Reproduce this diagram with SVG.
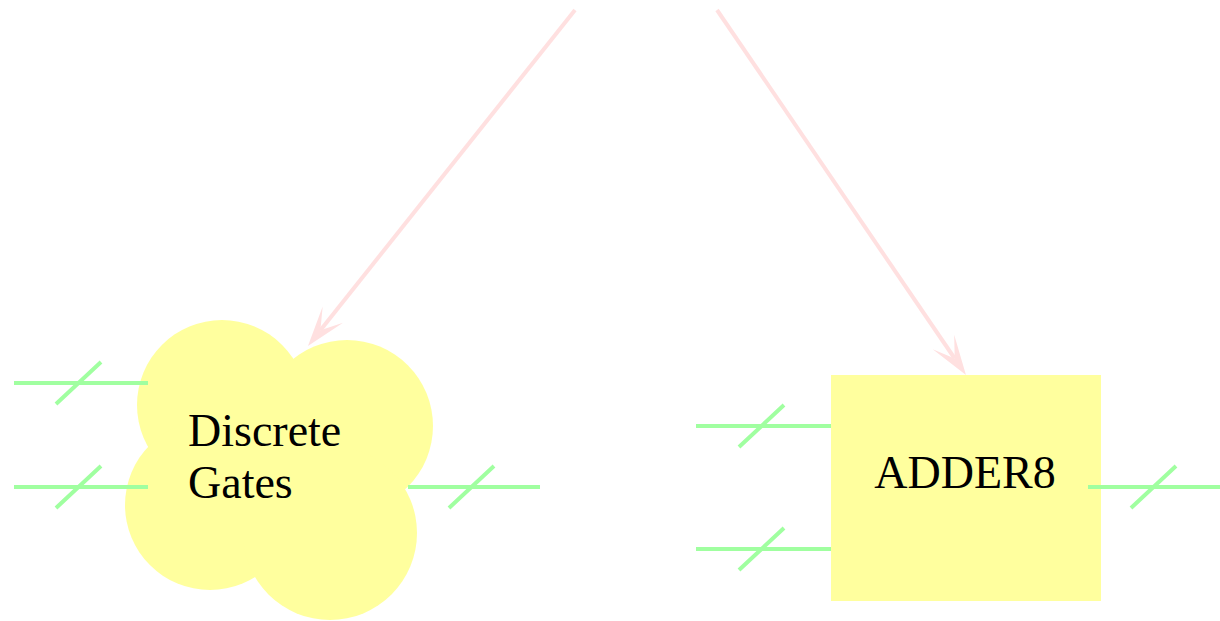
<svg xmlns="http://www.w3.org/2000/svg" width="1220" height="621" viewBox="0 0 1220 621">
<style>
.lbl{font-family:"Liberation Serif","Times New Roman",serif;font-size:46px;fill:#000}
.body{fill:#ffff9e;stroke:none}
.bus{stroke:#a0ffa0;stroke-width:4;fill:none}
.edge{stroke:#ffe0e0;stroke-width:4;fill:none}
</style>
<defs>
<marker id="vee" viewBox="0 -15 42 30" refX="20" refY="0" markerWidth="42" markerHeight="30" markerUnits="userSpaceOnUse" orient="auto">
<path d="M0,-13 L40,0 L0,13 L20,0 Z" fill="#ffe0e0"/>
</marker>
</defs>
<rect width="1220" height="621" fill="#ffffff"/>
<g id="connectors">
<path class="edge" d="M575,10 L320.4,330.3" marker-end="url(#vee)"/>
<path class="edge" d="M717,10 L954.7,358.5" marker-end="url(#vee)"/>
</g>
<g id="discrete-gates">
<g class="body">
<circle cx="222" cy="405" r="85"/>
<circle cx="347" cy="426" r="86"/>
<circle cx="210" cy="505" r="85"/>
<circle cx="330" cy="533" r="87"/>
<rect x="200" y="400" width="150" height="140"/>
</g>
<path class="bus" d="M14,383 H148 M56,404 L101,362 M14,487 H148 M56,508 L101,466 M408,487 H540 M449,508 L494,466"/>
<text class="lbl" x="188" y="446">Discrete</text>
<text class="lbl" x="188" y="498">Gates</text>
</g>
<g id="adder8">
<rect class="body" x="831" y="375" width="270" height="226"/>
<path class="bus" d="M696,426 H831 M739,447 L784,405 M696,549 H831 M739,570 L784,528 M1088,487 H1220 M1131,508 L1176,466"/>
<text class="lbl" x="965" y="488" text-anchor="middle">ADDER8</text>
</g>
</svg>
